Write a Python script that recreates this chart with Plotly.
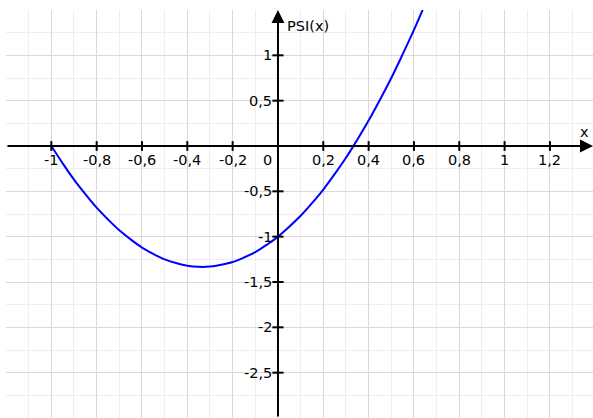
import plotly.graph_objects as go

# curve values
x_vals = [-1.0, -0.95, -0.9, -0.85, -0.8, -0.75, -0.7, -0.65, -0.6, -0.55, -0.5,
          -0.45, -0.4, -0.35, -0.3, -0.25, -0.2, -0.15, -0.1, -0.05, 0.0,
          0.05, 0.1, 0.15, 0.2, 0.25, 0.3, 0.35, 0.4, 0.45, 0.5, 0.55, 0.6, 0.65]
psi_vals = [0.0, -0.19, -0.37, -0.53, -0.68, -0.81, -0.93, -1.03, -1.12, -1.19, -1.25,
            -1.29, -1.32, -1.333, -1.33, -1.31, -1.28, -1.23, -1.17, -1.09, -1.0,
            -0.89, -0.77, -0.63, -0.48, -0.31, -0.13, 0.07, 0.28, 0.51, 0.75, 1.01, 1.28, 1.57]

x_ticks = [-1.0, -0.8, -0.6, -0.4, -0.2, 0.2, 0.4, 0.6, 0.8, 1.0, 1.2]
x_tick_labels = ["-1", "-0,8", "-0,6", "-0,4", "-0,2", "0,2", "0,4", "0,6", "0,8", "1", "1,2"]
y_ticks = [1.0, 0.5, -0.5, -1.0, -1.5, -2.0, -2.5]
y_tick_labels = ["1", "0,5", "-0,5", "-1", "-1,5", "-2", "-2,5"]

X_RANGE = [-1.2, 1.39]
Y_RANGE = [-3.0, 1.5]

FONT = "DejaVu Sans"
FS = 14.5
fig = go.Figure()

fig.add_trace(go.Scatter(x=x_vals, y=psi_vals, mode="lines",
                         line=dict(color="#0000ff", width=2, shape="spline"),
                         hoverinfo="skip", showlegend=False))

# tick marks
fig.add_trace(go.Scatter(x=x_ticks, y=[0] * len(x_ticks), mode="markers",
                         marker=dict(symbol="line-ns", size=7, line=dict(color="black", width=2)),
                         hoverinfo="skip", showlegend=False, cliponaxis=False))
fig.add_trace(go.Scatter(x=[0] * len(y_ticks), y=y_ticks, mode="markers",
                         marker=dict(symbol="line-ew", size=8, line=dict(color="black", width=2)),
                         hoverinfo="skip", showlegend=False, cliponaxis=False))

annotations = []
# axis arrows
annotations.append(dict(x=0, y=Y_RANGE[1], ax=0, ay=Y_RANGE[0], xref="x", yref="y",
                        axref="x", ayref="y", showarrow=True, arrowhead=2, arrowsize=1.3,
                        arrowwidth=2, arrowcolor="black", text="", standoff=0))
annotations.append(dict(x=X_RANGE[1], y=0, ax=X_RANGE[0], ay=0, xref="x", yref="y",
                        axref="x", ayref="y", showarrow=True, arrowhead=2, arrowsize=1.3,
                        arrowwidth=2, arrowcolor="black", text="", standoff=0))
for v, t in zip(x_ticks, x_tick_labels):
    annotations.append(dict(x=v, y=0, xref="x", yref="y", text=t, showarrow=False,
                            xanchor="center", yanchor="top", yshift=-4,
                            font=dict(family=FONT, size=FS, color="black")))
annotations.append(dict(x=0, y=0, xref="x", yref="y", text="0", showarrow=False,
                        xanchor="right", yanchor="top", xshift=-4, yshift=-4,
                        font=dict(family=FONT, size=FS, color="black")))
for v, t in zip(y_ticks, y_tick_labels):
    annotations.append(dict(x=0, y=v, xref="x", yref="y", text=t, showarrow=False,
                            xanchor="right", yanchor="middle", xshift=-4,
                            font=dict(family=FONT, size=FS, color="black")))
annotations.append(dict(x=0, y=Y_RANGE[1], xref="x", yref="y", text="PSI(x)", showarrow=False,
                        xanchor="left", yanchor="top", xshift=7, yshift=-6,
                        font=dict(family=FONT, size=FS, color="black")))
annotations.append(dict(x=X_RANGE[1], y=0, xref="x", yref="y", text="x", showarrow=False,
                        xanchor="right", yanchor="bottom", xshift=-2, yshift=4,
                        font=dict(family=FONT, size=FS, color="black")))

fig.update_layout(
    width=593, height=418,
    margin=dict(l=6, r=0, t=10, b=0),
    paper_bgcolor="white", plot_bgcolor="white",
    annotations=annotations,
    xaxis=dict(range=X_RANGE, tick0=0, dtick=0.2, showgrid=True, gridcolor="#d9d9d9",
               gridwidth=1, showticklabels=False, zeroline=False, showline=False,
               ticks="", minor=dict(dtick=0.1, tick0=0, showgrid=True, gridcolor="#eeeeee", gridwidth=1),
               fixedrange=True),
    yaxis=dict(range=Y_RANGE, tick0=0, dtick=0.5, showgrid=True, gridcolor="#d9d9d9",
               gridwidth=1, showticklabels=False, zeroline=False, showline=False,
               ticks="", minor=dict(dtick=0.25, tick0=0, showgrid=True, gridcolor="#eeeeee", gridwidth=1),
               fixedrange=True),
)

fig.write_html("out.html", config={"displayModeBar": False},
               post_script="document.body.style.margin='0';document.body.style.overflow='hidden';")
